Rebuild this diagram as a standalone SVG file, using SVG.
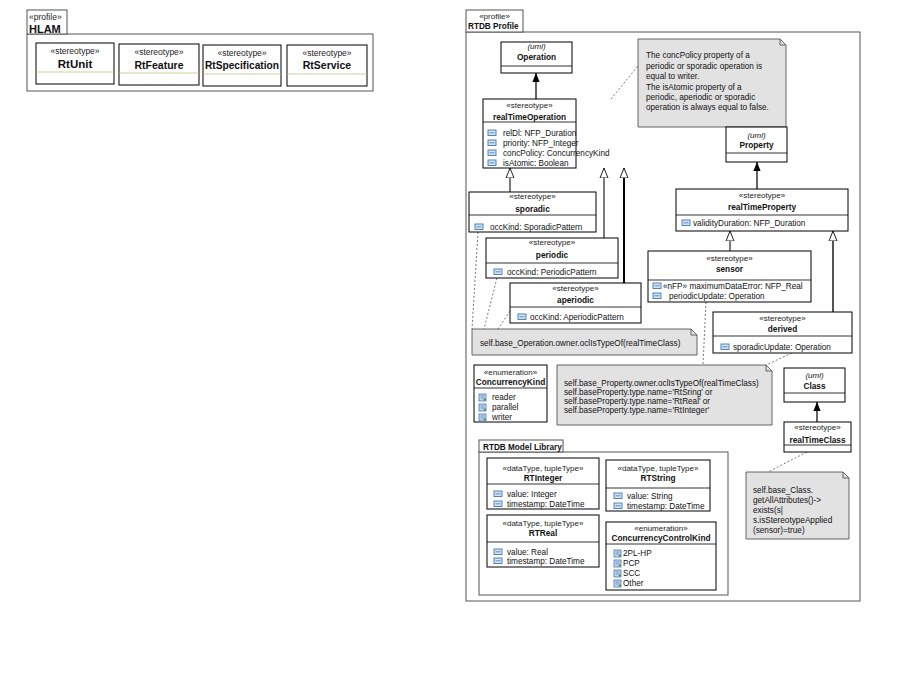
<svg xmlns="http://www.w3.org/2000/svg" xmlns:xlink="http://www.w3.org/1999/xlink" width="901" height="690" viewBox="0 0 901 690">
<style>
text{font-family:"Liberation Sans",Arial,sans-serif;fill:#111}
.st{font-size:8px;text-anchor:middle;fill:#222}
.nm{font-size:8.3px;font-weight:bold;text-anchor:middle}
.hst{font-size:8.5px;text-anchor:middle;fill:#222}
.hnm{font-size:10.5px;font-weight:bold;text-anchor:middle}
.at{font-size:8.2px}
.uml{font-size:8px;font-style:italic;text-anchor:middle}
.box{fill:#fff;stroke:#000;stroke-width:1}
.div{stroke:#000;stroke-width:0.8}
.hdiv{stroke:#cfcf9a;stroke-width:1}
.frame{fill:none;stroke:#555;stroke-width:1}
.tab{fill:#fff;stroke:#555;stroke-width:1}
.note{fill:#e2e2e2;stroke:#555;stroke-width:0.9}
.fold{fill:none;stroke:#555;stroke-width:0.9}
.dash{fill:none;stroke:#555;stroke-width:0.8;stroke-dasharray:2 2}
.gen{fill:none;stroke:#222;stroke-width:1.4}
.ext{fill:none;stroke:#222;stroke-width:1.2}
</style>
<defs>
<marker id="hollow" viewBox="0 0 10 10" refX="10" refY="5" markerWidth="10" markerHeight="10" markerUnits="userSpaceOnUse" orient="auto">
<path d="M0,1 L10,5 L0,9 Z" fill="#fff" stroke="#222" stroke-width="1"/>
</marker>
<marker id="filled" viewBox="0 0 10 10" refX="10" refY="5" markerWidth="10" markerHeight="9" markerUnits="userSpaceOnUse" orient="auto">
<path d="M0,1 L10,5 L0,9 Z" fill="#000"/>
</marker>
<g id="ai">
<rect x="0" y="-6" width="8" height="5.5" fill="#d4e3f3" stroke="#4177b5" stroke-width="0.9"/>
<path d="M1.5,-3.2 H6.5" stroke="#4177b5" stroke-width="0.8"/>
</g>
<g id="ei">
<rect x="0" y="-7" width="7" height="7" fill="#c9d9ee" stroke="#4177b5" stroke-width="0.8"/>
<path d="M1.5,-5 H5.5 M1.5,-3 H5.5" stroke="#4177b5" stroke-width="0.7"/>
<path d="M4.5,-1.5 H7 M5.8,-2.7 V-0.3" stroke="#3a9a3a" stroke-width="0.9"/>
</g>
</defs>

<!-- HLAM profile -->
<g id="hlam-profile">
<rect class="frame" x="27" y="34" width="346" height="57"/>
<rect class="tab" x="27" y="10" width="40" height="24"/>
<text x="29" y="20" style="font-size:8.5px;fill:#222">«profile»</text>
<text x="29" y="32.5" style="font-size:11px;font-weight:bold">HLAM</text>
</g>
<g id="RtUnit">
<rect class="box" x="36" y="43" width="78" height="41"/>
<line class="hdiv" x1="36.5" y1="72" x2="113.5" y2="72"/>
<text class="hst" x="75" y="54">«stereotype»</text>
<text class="hnm" x="75" y="67.5" style="font-size:11.5px">RtUnit</text>
</g>
<g id="RtFeature">
<rect class="box" x="119" y="44" width="80" height="41"/>
<line class="hdiv" x1="119.5" y1="73" x2="198.5" y2="73"/>
<text class="hst" x="159" y="55">«stereotype»</text>
<text class="hnm" x="159" y="68.5">RtFeature</text>
</g>
<g id="RtSpecification">
<rect class="box" x="203" y="45" width="78" height="41"/>
<line class="hdiv" x1="203.5" y1="74" x2="280.5" y2="74"/>
<text class="hst" x="242" y="56">«stereotype»</text>
<text class="hnm" x="242" y="69" textLength="74" lengthAdjust="spacingAndGlyphs">RtSpecification</text>
</g>
<g id="RtService">
<rect class="box" x="287" y="45" width="80" height="41"/>
<line class="hdiv" x1="287.5" y1="74" x2="366.5" y2="74"/>
<text class="hst" x="327" y="56">«stereotype»</text>
<text class="hnm" x="327" y="69">RtService</text>
</g>

<!-- RTDB profile frame -->
<g id="rtdb-profile">
<rect class="frame" x="466" y="32" width="394" height="569"/>
<rect class="tab" x="466" y="10" width="57" height="22"/>
<text x="494.5" y="19" style="font-size:8px;text-anchor:middle;fill:#222">«profile»</text>
<text x="468" y="29" style="font-size:8.2px;font-weight:bold">RTDB Profile</text>
</g>

<!-- connectors -->
<g id="connectors">
<line class="gen" x1="536" y1="99" x2="536" y2="73" marker-end="url(#filled)"/>
<line class="gen" x1="757" y1="189" x2="757" y2="162" marker-end="url(#filled)"/>
<line class="gen" x1="817" y1="422" x2="817" y2="402" marker-end="url(#filled)"/>
<line class="ext" x1="510" y1="192" x2="510" y2="168" marker-end="url(#hollow)"/>
<line class="ext" x1="604" y1="238" x2="604" y2="168" marker-end="url(#hollow)"/>
<line class="gen" style="stroke:#000;stroke-width:2" x1="624" y1="283" x2="624" y2="168" marker-end="url(#hollow)"/>
<line class="ext" x1="730" y1="251" x2="730" y2="231" marker-end="url(#hollow)"/>
<line class="gen" style="stroke:#555;stroke-width:2" x1="833" y1="312" x2="833" y2="231" marker-end="url(#hollow)"/>
<line class="dash" x1="611" y1="99" x2="638" y2="66"/>
<line class="dash" x1="478" y1="232" x2="472" y2="329"/>
<line class="dash" x1="497" y1="278" x2="484" y2="329"/>
<line class="dash" x1="510" y1="311" x2="498" y2="329"/>
<line class="dash" x1="706" y1="302" x2="703" y2="365"/>
<line class="dash" x1="792" y1="353" x2="766" y2="365"/>
<line class="dash" x1="807" y1="452" x2="768" y2="472"/>
</g>

<g id="Operation">
<rect class="box" x="501" y="42" width="71" height="31"/>
<line class="div" x1="501" y1="66" x2="572" y2="66"/>
<text class="uml" x="536.5" y="49">(uml)</text>
<text class="nm" x="536.5" y="60">Operation</text>
</g>

<g id="note-concPolicy">
<path class="note" d="M638,39 H780 L786,45 V127 H638 Z"/>
<path class="fold" d="M780,39 V45 H786"/>
<text class="at" x="646" y="58">The concPolicy property of a</text>
<text class="at" x="646" y="69">periodic or sporadic operation is</text>
<text class="at" x="646" y="79">equal to writer.</text>
<text class="at" x="646" y="90">The isAtomic property of a</text>
<text class="at" x="646" y="100">periodic, aperiodic or sporadic</text>
<text class="at" x="646" y="110">operation is always equal to false.</text>
</g>

<g id="realTimeOperation">
<rect class="box" x="483" y="99" width="93" height="69"/>
<line class="div" x1="483" y1="122" x2="576" y2="122"/>
<text class="st" x="529.5" y="108">«stereotype»</text>
<text class="nm" x="529.5" y="120">realTimeOperation</text>
<use xlink:href="#ai" x="488" y="136"/><text class="at" x="503" y="136">relDl: NFP_Duration</text>
<use xlink:href="#ai" x="488" y="146"/><text class="at" x="503" y="146">priority: NFP_Integer</text>
<use xlink:href="#ai" x="488" y="156"/><text class="at" x="503" y="156">concPolicy: ConcurrencyKind</text>
<use xlink:href="#ai" x="488" y="166"/><text class="at" x="503" y="166">isAtomic: Boolean</text>
</g>

<g id="Property">
<rect class="box" x="726" y="127" width="61" height="35"/>
<line class="div" x1="726" y1="153" x2="787" y2="153"/>
<text class="uml" x="756.5" y="138">(uml)</text>
<text class="nm" x="756.5" y="148">Property</text>
</g>

<g id="realTimeProperty">
<rect class="box" x="676" y="189" width="172" height="42"/>
<line class="div" x1="676" y1="215" x2="848" y2="215"/>
<text class="st" x="762" y="198">«stereotype»</text>
<text class="nm" x="762" y="210">realTimeProperty</text>
<use xlink:href="#ai" x="682" y="226"/><text class="at" x="693" y="226">validityDuration: NFP_Duration</text>
</g>

<g id="sporadic">
<rect class="box" x="469" y="192" width="127" height="40"/>
<line class="div" x1="469" y1="215" x2="596" y2="215"/>
<text class="st" x="532.5" y="199">«stereotype»</text>
<text class="nm" x="532.5" y="212">sporadic</text>
<use xlink:href="#ai" x="475" y="230"/><text class="at" x="490" y="230">occKind: SporadicPattern</text>
</g>

<g id="periodic">
<rect class="box" x="486" y="238" width="132" height="40"/>
<line class="div" x1="486" y1="263" x2="618" y2="263"/>
<text class="st" x="552" y="245">«stereotype»</text>
<text class="nm" x="552" y="258">periodic</text>
<use xlink:href="#ai" x="494" y="275"/><text class="at" x="507" y="275">occKind: PeriodicPattern</text>
</g>

<g id="note-operation">
<path class="note" d="M472,329 H691 L697,335 V355 H472 Z"/>
<path class="fold" d="M691,329 V335 H697"/>
<text class="at" x="480" y="346">self.base_Operation.owner.oclIsTypeOf(realTimeClass)</text>
</g>

<g id="aperiodic">
<rect class="box" x="510" y="283" width="131" height="40"/>
<line class="div" x1="510" y1="307" x2="641" y2="307"/>
<text class="st" x="575.5" y="291">«stereotype»</text>
<text class="nm" x="575.5" y="303">aperiodic</text>
<use xlink:href="#ai" x="518" y="320"/><text class="at" x="530" y="320">occKind: AperiodicPattern</text>
</g>

<g id="sensor">
<rect class="box" x="648" y="251" width="163" height="51"/>
<line class="div" x1="648" y1="280" x2="811" y2="280"/>
<text class="st" x="729.5" y="261">«stereotype»</text>
<text class="nm" x="729.5" y="272">sensor</text>
<use xlink:href="#ai" x="653" y="289"/><text class="at" x="663" y="289">«nFP»  maximumDataError: NFP_Real</text>
<use xlink:href="#ai" x="653" y="299"/><text class="at" x="669" y="299">periodicUpdate: Operation</text>
</g>

<g id="derived">
<rect class="box" x="713" y="312" width="139" height="41"/>
<line class="div" x1="713" y1="336" x2="852" y2="336"/>
<text class="st" x="782.5" y="321">«stereotype»</text>
<text class="nm" x="782.5" y="332">derived</text>
<use xlink:href="#ai" x="721" y="350"/><text class="at" x="733" y="350">sporadicUpdate: Operation</text>
</g>

<g id="ConcurrencyKind">
<rect class="box" x="474" y="365" width="73" height="57"/>
<line class="div" x1="474" y1="388" x2="547" y2="388"/>
<text class="st" x="510.5" y="375">«enumeration»</text>
<text class="nm" x="510.5" y="385">ConcurrencyKind</text>
<use xlink:href="#ei" x="479" y="401"/><text class="at" x="492" y="400">reader</text>
<use xlink:href="#ei" x="479" y="411"/><text class="at" x="492" y="410">parallel</text>
<use xlink:href="#ei" x="479" y="421"/><text class="at" x="492" y="420">writer</text>
</g>

<g id="note-property">
<path class="note" d="M557,365 H766 L772,371 V425 H557 Z"/>
<path class="fold" d="M766,365 V371 H772"/>
<text class="at" x="564" y="386">self.base_Property.owner.oclIsTypeOf(realTimeClass)</text>
<text class="at" x="564" y="395">self.baseProperty.type.name='RtSring' or</text>
<text class="at" x="564" y="404">self.baseProperty.type.name='RtReal' or</text>
<text class="at" x="564" y="413">self.baseProperty.type.name='RtInteger'</text>
</g>

<g id="Class">
<rect class="box" x="784" y="368" width="61" height="34"/>
<line class="div" x1="784" y1="393" x2="845" y2="393"/>
<text class="uml" x="814.5" y="378">(uml)</text>
<text class="nm" x="814.5" y="389">Class</text>
</g>

<g id="realTimeClass">
<rect class="box" x="784" y="422" width="67" height="30"/>
<line class="div" x1="784" y1="445" x2="851" y2="445"/>
<text class="st" x="817.5" y="430">«stereotype»</text>
<text class="nm" x="817.5" y="443">realTimeClass</text>
</g>

<g id="note-class">
<path class="note" d="M746,472 H843 L849,478 V539 H746 Z"/>
<path class="fold" d="M843,472 V478 H849"/>
<text class="at" x="753" y="493">self.base_Class.</text>
<text class="at" x="753" y="503">getAllAttributes()-&gt;</text>
<text class="at" x="753" y="513">exists(s|</text>
<text class="at" x="753" y="523">s.isStereotypeApplied</text>
<text class="at" x="753" y="533">(sensor)=true)</text>
</g>

<g id="rtdb-model-library">
<rect class="frame" x="479" y="452" width="249" height="143"/>
<rect class="tab" x="479" y="440" width="84" height="12"/>
<text x="483" y="449.5" style="font-size:8.2px;font-weight:bold">RTDB Model Library</text>
</g>

<g id="RTInteger">
<rect class="box" x="487" y="458" width="112" height="51"/>
<line class="div" x1="487" y1="484" x2="599" y2="484"/>
<text class="st" x="543" y="471">«dataType, tupleType»</text>
<text class="nm" x="543" y="481">RTInteger</text>
<use xlink:href="#ai" x="494" y="497"/><text class="at" x="507" y="497">value: Integer</text>
<use xlink:href="#ai" x="494" y="507"/><text class="at" x="507" y="507">timestamp: DateTime</text>
</g>

<g id="RTString">
<rect class="box" x="606" y="460" width="104" height="51"/>
<line class="div" x1="606" y1="488" x2="710" y2="488"/>
<text class="st" x="658" y="471">«dataType, tupleType»</text>
<text class="nm" x="658" y="481">RTString</text>
<use xlink:href="#ai" x="614" y="499"/><text class="at" x="627" y="499">value: String</text>
<use xlink:href="#ai" x="614" y="509"/><text class="at" x="627" y="509">timestamp: DateTime</text>
</g>

<g id="RTReal">
<rect class="box" x="487" y="515" width="112" height="52"/>
<line class="div" x1="487" y1="542" x2="599" y2="542"/>
<text class="st" x="543" y="526">«dataType, tupleType»</text>
<text class="nm" x="543" y="536">RTReal</text>
<use xlink:href="#ai" x="494" y="555"/><text class="at" x="507" y="555">value: Real</text>
<use xlink:href="#ai" x="494" y="564"/><text class="at" x="507" y="564">timestamp: DateTime</text>
</g>

<g id="ConcurrencyControlKind">
<rect class="box" x="606" y="522" width="110" height="68"/>
<line class="div" x1="606" y1="544" x2="716" y2="544"/>
<text class="st" x="661" y="531">«enumeration»</text>
<text class="nm" x="661" y="541">ConcurrencyControlKind</text>
<use xlink:href="#ei" x="614" y="557"/><text class="at" x="623" y="556">2PL-HP</text>
<use xlink:href="#ei" x="614" y="567"/><text class="at" x="623" y="566">PCP</text>
<use xlink:href="#ei" x="614" y="577"/><text class="at" x="623" y="576">SCC</text>
<use xlink:href="#ei" x="614" y="587"/><text class="at" x="623" y="586">Other</text>
</g>
</svg>
